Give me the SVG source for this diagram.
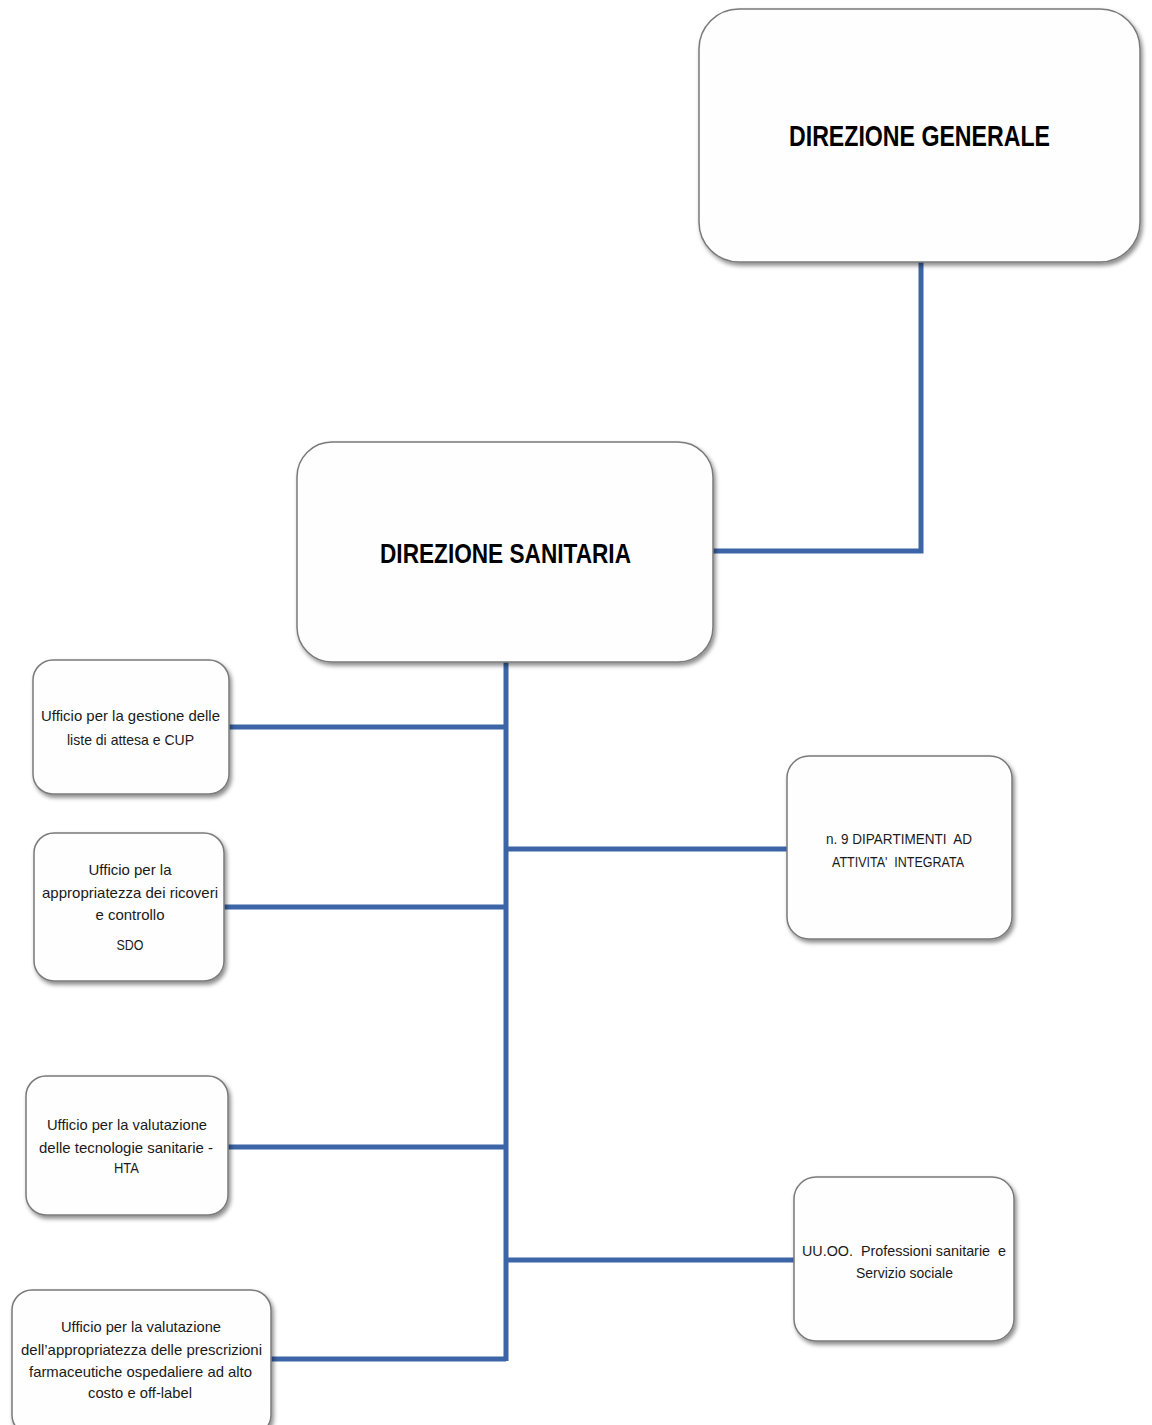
<svg xmlns="http://www.w3.org/2000/svg" width="1152" height="1425" viewBox="0 0 1152 1425">
<defs>
<filter id="sh" x="-10%" y="-10%" width="125%" height="130%">
<feDropShadow dx="2" dy="3" stdDeviation="2" flood-color="#000" flood-opacity="0.45"/>
</filter>
<style>
.box{fill:#fefefe;stroke:#7a7a7a;stroke-width:1.5;filter:url(#sh)}
.t{font-family:"Liberation Sans",Arial,sans-serif;font-size:15px;fill:#1a1a1a;text-anchor:middle;white-space:pre}
.big{font-family:"Liberation Sans",Arial,sans-serif;font-weight:bold;fill:#000;text-anchor:middle}
.c{fill:none;stroke:#3b65a6;stroke-width:5;stroke-linejoin:miter}
</style>
</defs>
<rect width="1152" height="1425" fill="#ffffff"/>
<g id="connectors">
<path class="c" d="M921 262 V551 H713"/>
<path class="c" d="M506 662 V1361"/>
<path class="c" d="M229 727 H506"/>
<path class="c" d="M224 907 H506"/>
<path class="c" d="M228 1147 H506"/>
<path class="c" d="M271 1359 H506"/>
<path class="c" d="M506 849 H787"/>
<path class="c" d="M506 1260 H795"/>
</g>
<g id="direzione-generale">
<rect class="box" x="699" y="9" width="441" height="253" rx="40"/>
<text class="big" x="919.5" y="146" font-size="30" textLength="261" lengthAdjust="spacingAndGlyphs">DIREZIONE GENERALE</text>
</g>
<g id="direzione-sanitaria">
<rect class="box" x="297" y="442" width="416" height="220" rx="35"/>
<text class="big" x="505.5" y="563" font-size="28" textLength="251" lengthAdjust="spacingAndGlyphs">DIREZIONE SANITARIA</text>
</g>
<g id="ufficio-liste-attesa">
<rect class="box" x="33" y="660" width="196" height="134" rx="20"/>
<text class="t" x="130.5" y="721" textLength="179" lengthAdjust="spacingAndGlyphs">Ufficio per la gestione delle</text>
<text class="t" x="130.5" y="745" textLength="127" lengthAdjust="spacingAndGlyphs">liste di attesa e CUP</text>
</g>
<g id="ufficio-ricoveri">
<rect class="box" x="34" y="833" width="190" height="148" rx="20"/>
<text class="t" x="130" y="875" textLength="83" lengthAdjust="spacingAndGlyphs">Ufficio per la</text>
<text class="t" x="130" y="898" textLength="176" lengthAdjust="spacingAndGlyphs">appropriatezza dei ricoveri</text>
<text class="t" x="130" y="920" textLength="69" lengthAdjust="spacingAndGlyphs">e controllo</text>
<text class="t" x="130" y="950" textLength="27" lengthAdjust="spacingAndGlyphs">SDO</text>
</g>
<g id="ufficio-hta">
<rect class="box" x="26" y="1076" width="202" height="139" rx="20"/>
<text class="t" x="127" y="1130" textLength="160" lengthAdjust="spacingAndGlyphs">Ufficio per la valutazione</text>
<text class="t" x="126" y="1153" textLength="174" lengthAdjust="spacingAndGlyphs">delle tecnologie sanitarie -</text>
<text class="t" x="126.5" y="1173" textLength="25" lengthAdjust="spacingAndGlyphs">HTA</text>
</g>
<g id="ufficio-prescrizioni">
<rect class="box" x="12" y="1290" width="259" height="145" rx="20"/>
<text class="t" x="141" y="1332" textLength="160" lengthAdjust="spacingAndGlyphs">Ufficio per la valutazione</text>
<text class="t" x="141.5" y="1355" textLength="241" lengthAdjust="spacingAndGlyphs">dell’appropriatezza delle prescrizioni</text>
<text class="t" x="140.5" y="1377" textLength="223" lengthAdjust="spacingAndGlyphs">farmaceutiche ospedaliere ad alto</text>
<text class="t" x="140" y="1398" textLength="104" lengthAdjust="spacingAndGlyphs">costo e off-label</text>
</g>
<g id="dipartimenti">
<rect class="box" x="787" y="756" width="225" height="183" rx="22"/>
<text class="t" x="899" y="844" textLength="146" lengthAdjust="spacingAndGlyphs">n. 9 DIPARTIMENTI  AD</text>
<text class="t" x="898" y="867" textLength="132" lengthAdjust="spacingAndGlyphs">ATTIVITA'  INTEGRATA</text>
</g>
<g id="professioni-sanitarie">
<rect class="box" x="794" y="1177" width="220" height="164" rx="22"/>
<text class="t" x="904" y="1256" textLength="204" lengthAdjust="spacingAndGlyphs">UU.OO.  Professioni sanitarie  e</text>
<text class="t" x="904.5" y="1278" textLength="97" lengthAdjust="spacingAndGlyphs">Servizio sociale</text>
</g>
</svg>
